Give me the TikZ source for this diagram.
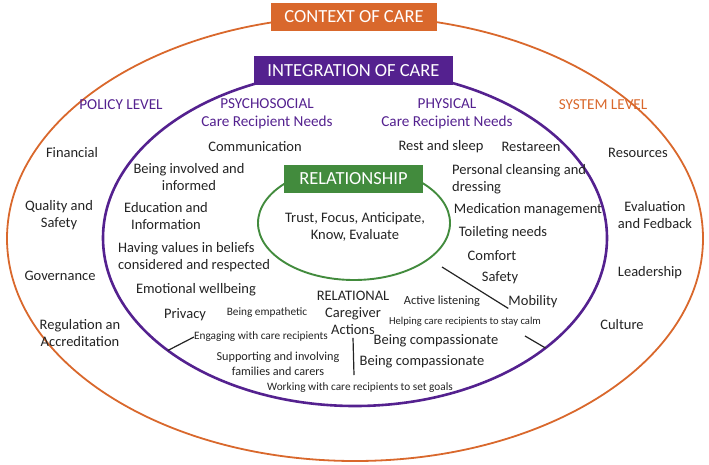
\documentclass[tikz,border=0pt]{standalone}
\usepackage{fontspec}
\setmainfont{Carlito}
\usepackage{tikz}
\usetikzlibrary{positioning,shapes.geometric}
\definecolor{CCorange}{RGB}{217,104,44}
\definecolor{CCpurple}{RGB}{84,33,143}
\definecolor{CCgreen}{RGB}{66,139,61}
\definecolor{CCtext}{RGB}{35,35,35}
\tikzset{
  ring/.style={ellipse,inner sep=0pt,outer sep=0pt},
  tag/.style={rectangle,text=white,font=\fontsize{18.5}{22}\selectfont,inner sep=0pt},
  head/.style={font=\fontsize{15.2}{17.5}\selectfont,text=CCpurple,align=center,inner sep=0pt},
  need/.style={font=\fontsize{14.5}{17}\selectfont,text=CCtext,align=center,inner sep=0pt},
  act/.style={font=\fontsize{11.3}{13}\selectfont,text=CCtext,inner sep=0pt},
  link/.style={line width=1.2pt,draw=CCtext}
}

\begin{document}
\begin{tikzpicture}[x=1pt,y=-1pt]
  \useasboundingbox (0,0) rectangle (709,464);
  % the three rings
  \node[ring,draw=CCorange,line width=1.8pt,minimum width=696pt,minimum height=445pt] (context) at (355,238.5) {};
  \node[ring,draw=CCpurple,line width=2.6pt,minimum width=504pt,minimum height=336pt] (integ) at (355,238) {};
  \node[ring,draw=CCgreen,line width=1.9pt,minimum width=192pt,minimum height=114pt] (relation) at (354,223) {};
  % ring titles
  \node[tag,fill=CCorange,minimum width=166pt,minimum height=28pt] (contexttag) at (354,17) {CONTEXT OF CARE};
  \node[tag,fill=CCpurple,minimum width=199pt,minimum height=29pt] (integtag) at (353.5,70.5) {INTEGRATION OF CARE};
  \node[tag,fill=CCgreen,minimum width=139pt,minimum height=28pt] (relationtag) at (353.5,179) {RELATIONSHIP};
  \node[need] (core) at (355,227) {Trust, Focus, Anticipate,\\Know, Evaluate};
  % headings
  \node[head] (policy) at (121,105) {POLICY LEVEL};
  \node[head] (psycho) at (267,114) {PSYCHOSOCIAL\\Care Recipient Needs};
  \node[head] (physical) at (447,114) {PHYSICAL\\Care Recipient Needs};
  \node[head,text=CCorange] (system) at (603,105) {SYSTEM LEVEL};
  % policy level
  \node[need] (financial) at (72,153) {Financial};
  \node[need] (quality) at (59,215) {Quality and\\Safety};
  \node[need] (governance) at (60,276) {Governance};
  \node[need] (regulation) at (80,333) {Regulation an\\Accreditation};
  % system level
  \node[need] (resources) at (638,153) {Resources};
  \node[need] (evaluation) at (655,215) {Evaluation\\and Fedback};
  \node[need] (leadership) at (650,273) {Leadership};
  \node[need] (culture) at (622,325) {Culture};
  % psychosocial needs
  \node[need] (communication) at (255,147) {Communication};
  \node[need] (involved) at (189,177) {Being involved and\\informed};
  \node[need] (education) at (166,216) {Education and\\Information};
  \node[need,align=left,anchor=west] (values) at (118,257) {Having values in beliefs\\considered and respected};
  \node[need] (emotional) at (196,290) {Emotional wellbeing};
  \node[need] (privacy) at (185,315) {Privacy};
  % physical needs
  \node[need] (rest) at (441,147) {Rest and sleep};
  \node[need] (restareen) at (531,147) {Restareen};
  \node[need,align=left,anchor=west] (cleansing) at (452,179) {Personal cleansing and\\dressing};
  \node[need] (medication) at (528,210) {Medication management};
  \node[need] (toileting) at (503,233) {Toileting needs};
  \node[need] (comfort) at (492,256) {Comfort};
  \node[need] (safety) at (500,278) {Safety};
  \node[need] (mobility) at (533,302) {Mobility};
  % relational caregiver actions
  \node[need] (relational) at (353,313) {RELATIONAL\\Caregiver\\Actions};
  \node[act] (empathetic) at (267,313) {Being empathetic};
  \node[act] (engage) at (261,337) {Engaging with care recipients};
  \node[need,font=\fontsize{12.2}{15}\selectfont] (supporting) at (278,364) {Supporting and involving\\families and carers};
  \node[act] (goals) at (360,388) {Working with care recipients to set goals};
  \node[need,font=\fontsize{12.4}{15}\selectfont] (listening) at (442,301) {Active listening};
  \node[act,font=\fontsize{10.6}{13}\selectfont] (calm) at (465,322) {Helping care recipients to stay calm};
  \node[need] (compassion) at (436,341) {Being compassionate};
  \node[need] (compassiontwo) at (422,362) {Being compassionate};
  % pointers
  \coordinate (safetytip) at (442,267);
  \coordinate (calmtip) at (525,336);
  \coordinate (actfoot) at (354,375);
  \draw[link] (integ.211) -- (engage.west);
  \draw[link] (safetytip) -- (mobility.south west);
  \draw[link] (integ.330) -- (calmtip);
  \draw[link] ([yshift=-3pt]relational.south) -- (actfoot);
\end{tikzpicture}
\end{document}
